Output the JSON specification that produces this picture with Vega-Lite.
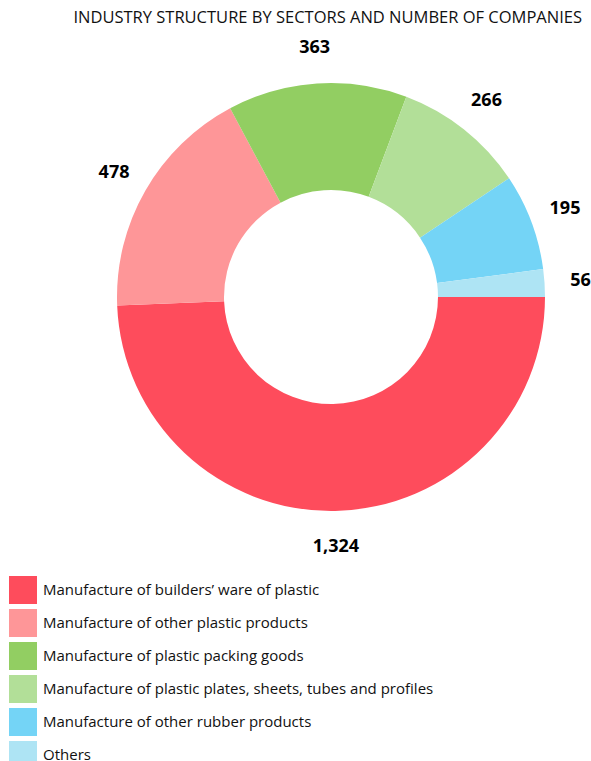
{
  "$schema": "https://vega.github.io/schema/vega-lite/v6.json",
  "width": 520,
  "height": 534,
  "autosize": {"type": "none"},
  "padding": {"left": 71, "top": 30, "right": 0, "bottom": 197},
  "background": "white",
  "title": {
    "text": "INDUSTRY STRUCTURE BY SECTORS AND NUMBER OF COMPANIES",
    "anchor": "end",
    "dx": -9,
    "offset": 4,
    "font": "Open Sans",
    "fontSize": 16.5,
    "fontWeight": "normal",
    "color": "#111111"
  },
  "data": {
    "values": [
      {"sector": "Manufacture of builders’ ware of plastic", "companies": 1324, "label": "1,324", "order": 1},
      {"sector": "Manufacture of other plastic products", "companies": 478, "label": "478", "order": 2},
      {"sector": "Manufacture of plastic packing goods", "companies": 363, "label": "363", "order": 3},
      {"sector": "Manufacture of plastic plates, sheets, tubes and profiles", "companies": 266, "label": "266", "order": 4},
      {"sector": "Manufacture of other rubber products", "companies": 195, "label": "195", "order": 5},
      {"sector": "Others", "companies": 56, "label": "56", "order": 6}
    ]
  },
  "encoding": {
    "theta": {"field": "companies", "type": "quantitative", "stack": true, "scale": {"range": [1.5707963, 7.8539816]}},
    "order": {"field": "order", "type": "quantitative", "sort": "ascending"}
  },
  "layer": [
    {
      "mark": {"type": "arc", "outerRadius": 214, "innerRadius": 107, "stroke": null},
      "encoding": {
        "color": {
          "field": "sector",
          "type": "nominal",
          "sort": null,
          "scale": {
            "domain": [
              "Manufacture of builders’ ware of plastic",
              "Manufacture of other plastic products",
              "Manufacture of plastic packing goods",
              "Manufacture of plastic plates, sheets, tubes and profiles",
              "Manufacture of other rubber products",
              "Others"
            ],
            "range": ["#FE4C5C", "#FE9698", "#92CE62", "#B2DF98", "#74D4F6", "#AEE4F4"]
          },
          "legend": {
            "title": null,
            "orient": "none",
            "legendX": -62,
            "legendY": 546,
            "symbolType": "square",
            "symbolSize": 784,
            "symbolStrokeWidth": 0,
            "symbolOpacity": 1,
            "rowPadding": 5,
            "padding": 0,
            "labelOffset": 6,
            "labelFont": "Open Sans",
            "labelFontSize": 15,
            "labelColor": "#111111",
            "labelLimit": 500
          }
        }
      }
    },
    {
      "mark": {"type": "text", "radius": 250, "font": "Open Sans", "fontSize": 18, "fontWeight": "bold", "color": "#000000"},
      "encoding": {
        "text": {"field": "label", "type": "nominal"}
      }
    }
  ]
}
